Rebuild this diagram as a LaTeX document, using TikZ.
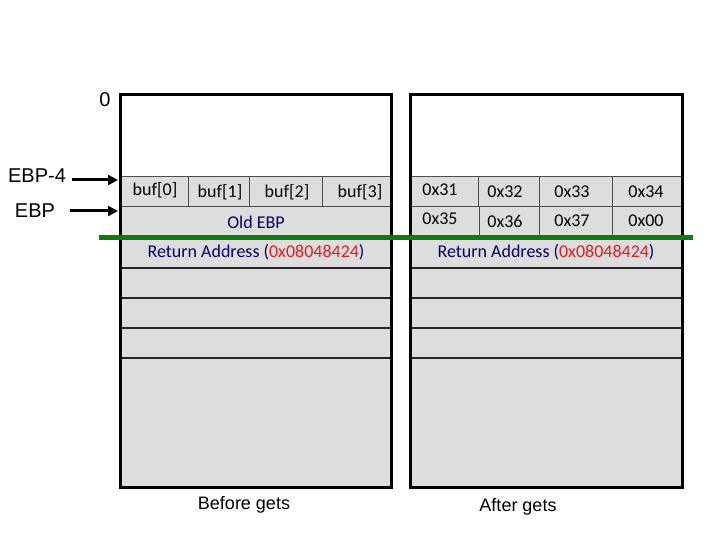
\documentclass[tikz,border=0pt]{standalone}
\usepackage{fontspec}
\setmainfont{Liberation Sans}
\newfontfamily\calfont{Carlito}
\usetikzlibrary{arrows.meta}
\definecolor{cellgray}{RGB}{221,221,221}
\definecolor{navy}{RGB}{0,0,110}
\definecolor{addrred}{RGB}{225,30,30}
\definecolor{sepgreen}{RGB}{18,120,18}
\tikzset{
  outer/.style={draw=black, line width=3pt},
  rowline/.style={draw=black!85, line width=1.3pt},
  cellline/.style={draw=black!70, line width=1pt},
  celltxt/.style={font=\calfont\fontsize{18}{20}\selectfont, inner sep=0pt, anchor=center},
  lab/.style={font=\fontsize{18}{20}\selectfont, inner sep=0pt},
  biglab/.style={font=\fontsize{20}{22}\selectfont, inner sep=0pt},
  ptr/.style={line width=3pt, -{Triangle[length=10pt,width=10pt]}},
  green/.style={draw=sepgreen, line width=5pt}
}
\begin{document}
\begin{tikzpicture}[x=1pt,y=-1pt]
\useasboundingbox (0,0) rectangle (720,540);
% ---------- left box (before gets) ----------
\fill[cellgray] (120,177) rectangle (391,487);
\draw[cellline] (120,177) -- (391,177);
\draw[cellline] (188,177) -- (188,207);
\draw[cellline] (249,177) -- (249,207);
\draw[cellline] (322,177) -- (322,207);
\draw[cellline] (120,207) -- (391,207);
\foreach \y in {268,298,328,358} \draw[rowline] (120,\y) -- (391,\y);
\draw[outer] (120,95) rectangle (391,487);
\node[celltxt] (b0) at (155,190) {buf[0]};
\node[celltxt] (b1) at (220,192) {buf[1]};
\node[celltxt] (b2) at (287,192) {buf[2]};
\node[celltxt] (b3) at (360,192) {buf[3]};
\node[celltxt, text=navy] (oebp) at (256,222) {Old EBP};
\node[celltxt, text=navy] (ra1) at (256,252) {Return Address (\textcolor{addrred}{0x08048424})};
% ---------- right box (after gets) ----------
\fill[cellgray] (410,177) rectangle (682,487);
\draw[cellline] (410,177) -- (682,177);
\draw[cellline] (478,177) -- (478,207);
\draw[cellline] (539,177) -- (539,237);
\draw[cellline] (612,177) -- (612,237);
\draw[cellline] (479,207) -- (479,237);
\draw[cellline] (410,207) -- (682,207);
\foreach \y in {268,298,328,358} \draw[rowline] (410,\y) -- (682,\y);
\draw[outer] (410,95) rectangle (682,487);
\node[celltxt] (c1) at (440,190) {0x31};
\node[celltxt] (c2) at (505,192) {0x32};
\node[celltxt] (c3) at (572,192) {0x33};
\node[celltxt] (c4) at (646,192) {0x34};
\node[celltxt] (c5) at (440,219) {0x35};
\node[celltxt] (c6) at (505,221) {0x36};
\node[celltxt] (c7) at (572,221) {0x37};
\node[celltxt] (c8) at (646,221) {0x00};
\node[celltxt, text=navy] (ra2) at (546,252) {Return Address (\textcolor{addrred}{0x08048424})};
% ---------- green separator ----------
\coordinate (gl) at (99,237.5);
\coordinate (gr) at (693,237.5);
\draw[green] (gl) -- (gr);
% ---------- labels and pointers ----------
\node[biglab] (zero) at (105,100) {0};
\node[biglab] (ebp4) at (37,176) {EBP-4};
\node[biglab] (ebp) at (35,211) {EBP};
\coordinate (p1s) at (72,180);
\coordinate (p1e) at (118,180);
\coordinate (p2s) at (70,211);
\coordinate (p2e) at (118,211);
\draw[ptr] (p1s) -- (p1e);
\draw[ptr] (p2s) -- (p2e);
\node[lab] (before) at (244,505) {Before gets};
\node[lab] (after) at (518,507) {After gets};
\end{tikzpicture}
\end{document}
